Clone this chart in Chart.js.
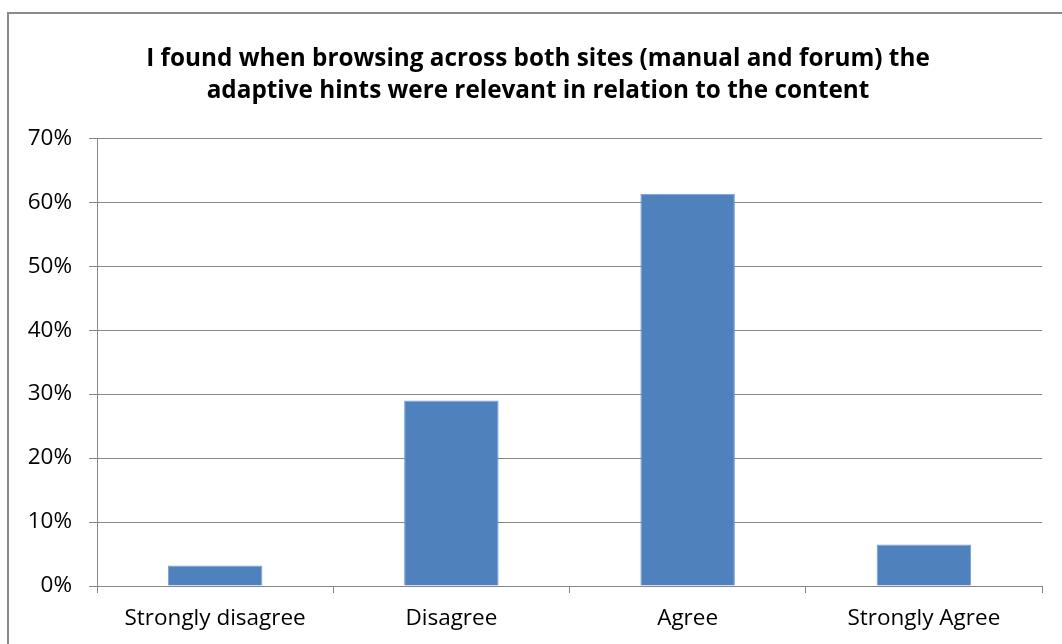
<!DOCTYPE html>
<html>
<head>
<meta charset="utf-8">
<script src="https://cdn.jsdelivr.net/npm/chart.js@4"></script>
<style>
  html, body { margin: 0; padding: 0; background: #fff; overflow: hidden; }
  #box {
    position: absolute; left: 7px; top: 12px;
    width: 1070px; height: 640px;
    border: 2px solid #8a8a8a;
  }
</style>
</head>
<body>
<div id="box"><canvas id="chart" width="1070" height="640"></canvas></div>
<script>
// answers to the survey question, share of respondents
const categories = ['Strongly disagree', 'Disagree', 'Agree', 'Strongly Agree'];
const shares = [0.032, 0.29, 0.613, 0.065];
const yTicks = [0, 0.1, 0.2, 0.3, 0.4, 0.5, 0.6, 0.7];
const titleLines = [
  'I found when browsing across both sites (manual and forum) the',
  'adaptive hints were relevant in relation to the content'
];

const FONT = '"Open Sans", "Noto Sans", sans-serif';

// nudge the title block so it centres a bit further right
const titleShift = {
  id: 'titleShift',
  afterLayout(c) {
    if (c.titleBlock) c.titleBlock.left += 25;
  }
};

const ctx = document.getElementById('chart').getContext('2d');
const chart = new Chart(ctx, {
  type: 'bar',
  data: {
    labels: categories,
    datasets: [{
      data: shares,
      backgroundColor: '#4F81BD',
      borderColor: '#7A9FCF',
      borderWidth: 1,
      barPercentage: 0.4,
      categoryPercentage: 1.0
    }]
  },
  plugins: [titleShift],
  options: {
    responsive: false,
    animation: false,
    layout: { padding: { left: 0, right: 37, top: 0, bottom: 0 } },
    plugins: {
      legend: { display: false },
      tooltip: { enabled: false },
      title: {
        display: true,
        text: titleLines,
        color: '#000',
        font: { family: FONT, size: 24.3, weight: 'bold', lineHeight: 1.28 },
        padding: { top: 30, bottom: 32 }
      }
    },
    scales: {
      x: {
        offset: true,
        grid: {
          offset: true,
          drawOnChartArea: false,
          color: '#868686',
          tickLength: 7,
          lineWidth: 1
        },
        border: { color: '#868686', width: 1 },
        ticks: {
          color: '#000',
          font: { family: FONT, size: 22.5 },
          padding: 12,
          maxRotation: 0
        },
        afterFit: (s) => { s.height = 68; }
      },
      y: {
        min: 0,
        max: 0.7,
        afterBuildTicks: (s) => { s.ticks = yTicks.map(v => ({ value: v })); },
        grid: { color: '#868686', tickLength: 8, lineWidth: 1 },
        border: { color: '#868686', width: 1 },
        ticks: {
          color: '#000',
          font: { family: FONT, size: 22.5 },
          padding: 17,
          callback: (v) => Math.round(v * 100) + '%'
        },
        afterFit: (s) => { s.width = 97 - 9; }
      }
    }
  }
});
</script>
</body>
</html>
